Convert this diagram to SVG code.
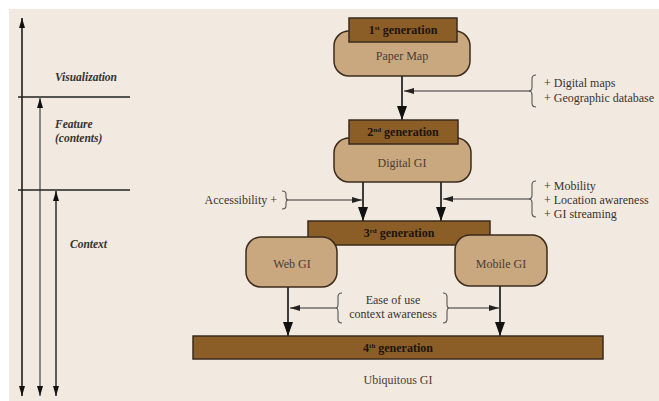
<svg xmlns="http://www.w3.org/2000/svg" width="659" height="401" viewBox="0 0 659 401">
  <defs>
    <marker id="big" viewBox="0 0 14 10" refX="14" refY="5" markerWidth="14" markerHeight="10" markerUnits="userSpaceOnUse" orient="auto-start-reverse">
      <path d="M0,0 L14,5 L0,10 Z" fill="#111"/>
    </marker>
    <marker id="small" viewBox="0 0 10 6" refX="10" refY="3" markerWidth="10" markerHeight="6" markerUnits="userSpaceOnUse" orient="auto">
      <path d="M0,0 L10,3 L0,6 Z" fill="#222"/>
    </marker>
    <marker id="axis" viewBox="0 0 10 6" refX="10" refY="3" markerWidth="10" markerHeight="6" markerUnits="userSpaceOnUse" orient="auto-start-reverse">
      <path d="M0,0 L10,3 L0,6 Z" fill="#111"/>
    </marker>
  </defs>
  <style>
    .gen { fill: #8b5d27; stroke: #3b2b1c; stroke-width: 1.5; }
    .soft { fill: #c9a77f; stroke: #3b2b1c; stroke-width: 1.5; }
    .gt { font-family: "Liberation Serif", "Times New Roman", serif; font-size: 12px; font-weight: bold; fill: #1e140a; text-anchor: middle; }
    .st { font-family: "Liberation Serif", "Times New Roman", serif; font-size: 12px; fill: #4a3d34; text-anchor: middle; }
    .lbl { font-family: "Liberation Serif", "Times New Roman", serif; font-size: 12px; fill: #3a3330; }
    .ax { font-family: "Liberation Serif", "Times New Roman", serif; font-size: 11.5px; font-weight: bold; font-style: italic; fill: #333; }
    .sup { font-size: 7px; }
    .conn { stroke: #111; stroke-width: 1.6; fill: none; }
    .thin { stroke: #333; stroke-width: 1.1; fill: none; }
    .brace { stroke: #555; stroke-width: 1.1; fill: none; }
  </style>

  <!-- page background -->
  <rect x="0" y="0" width="659" height="401" fill="#ffffff"/>
  <rect x="9" y="9" width="650" height="392" fill="#f2e9e0"/>

  <!-- level axes -->
  <g id="axes">
    <line x1="22" y1="18" x2="22" y2="396" stroke="#111" stroke-width="1.5" marker-start="url(#axis)" marker-end="url(#axis)"/>
    <line x1="40" y1="98" x2="40" y2="396" stroke="#666" stroke-width="1.5" marker-start="url(#axis)" marker-end="url(#axis)"/>
    <line x1="56" y1="191" x2="56" y2="396" stroke="#111" stroke-width="1.3" marker-start="url(#axis)" marker-end="url(#axis)"/>
    <line x1="18" y1="97" x2="130" y2="97" stroke="#222" stroke-width="1.6"/>
    <line x1="18" y1="190" x2="130" y2="190" stroke="#222" stroke-width="1.6"/>
    <text class="ax" x="55" y="81">Visualization</text>
    <text class="ax" x="55" y="128">Feature</text>
    <text class="ax" x="55" y="142">(contents)</text>
    <text class="ax" x="70" y="248">Context</text>
  </g>

  <!-- connectors -->
  <g id="connectors">
    <line class="conn" x1="402" y1="76" x2="402" y2="120" marker-end="url(#big)"/>
    <line class="conn" x1="363" y1="182" x2="363" y2="221" marker-end="url(#big)"/>
    <line class="conn" x1="441" y1="182" x2="441" y2="221" marker-end="url(#big)"/>
    <line class="conn" x1="288" y1="287" x2="288" y2="336" marker-end="url(#big)"/>
    <line class="conn" x1="500" y1="286" x2="500" y2="336" marker-end="url(#big)"/>

    <line class="thin" x1="531" y1="91" x2="404" y2="91" marker-end="url(#small)"/>
    <line class="thin" x1="287" y1="200" x2="362" y2="200" marker-end="url(#small)"/>
    <line class="thin" x1="531" y1="199" x2="443" y2="199" marker-end="url(#small)"/>
    <line class="thin" x1="337" y1="308" x2="290" y2="308" marker-end="url(#small)"/>
    <line class="thin" x1="448" y1="308" x2="499" y2="308" marker-end="url(#small)"/>

    <!-- braces -->
    <path class="brace" d="M536,75 q-4,0 -4,4 v8 q0,4 -3,4 q3,0 3,4 v8 q0,4 4,4"/>
    <path class="brace" d="M536,181 q-4,0 -4,4 v10 q0,4 -3,4 q3,0 3,4 v10 q0,4 4,4"/>
    <path class="brace" d="M282,191 q4,0 4,3 v3 q0,3 2,3 q-2,0 -2,3 v3 q0,3 -4,3"/>
    <path class="brace" d="M342,293 q-4,0 -4,4 v7 q0,4 -2,4 q2,0 2,4 v7 q0,4 4,4"/>
    <path class="brace" d="M443,293 q4,0 4,4 v7 q0,4 2,4 q-2,0 -2,4 v7 q0,4 -4,4"/>
  </g>

  <!-- side annotations -->
  <g id="notes">
    <text class="lbl" x="544" y="87">+ Digital maps</text>
    <text class="lbl" x="544" y="102">+ Geographic database</text>
    <text class="lbl" x="277" y="204" text-anchor="end">Accessibility +</text>
    <text class="lbl" x="544" y="190">+ Mobility</text>
    <text class="lbl" x="544" y="204">+ Location awareness</text>
    <text class="lbl" x="544" y="218">+ GI streaming</text>
    <text class="lbl" x="393" y="304" text-anchor="middle">Ease of use</text>
    <text class="lbl" x="393" y="318" text-anchor="middle">context awareness</text>
  </g>

  <!-- generation 1 -->
  <g id="gen1">
    <rect class="soft" x="334" y="31" width="136" height="45" rx="15"/>
    <rect class="gen" x="349" y="18" width="108" height="24"/>
    <text class="gt" x="403" y="34">1<tspan class="sup" dy="-4">st</tspan><tspan dy="4"> generation</tspan></text>
    <text class="st" x="402" y="60">Paper Map</text>
  </g>

  <!-- generation 2 -->
  <g id="gen2">
    <rect class="soft" x="334" y="138" width="137" height="44" rx="15"/>
    <rect class="gen" x="349" y="120" width="109" height="24"/>
    <text class="gt" x="403" y="136">2<tspan class="sup" dy="-4">nd</tspan><tspan dy="4"> generation</tspan></text>
    <text class="st" x="402" y="167">Digital GI</text>
  </g>

  <!-- generation 3 -->
  <g id="gen3">
    <rect class="gen" x="308" y="221" width="182" height="24"/>
    <text class="gt" x="399" y="237">3<tspan class="sup" dy="-4">rd</tspan><tspan dy="4"> generation</tspan></text>
  </g>
  <g id="webgi">
    <rect class="soft" x="246" y="237" width="91" height="50" rx="15"/>
    <text class="st" x="292" y="268">Web GI</text>
  </g>
  <g id="mobilegi">
    <rect class="soft" x="455" y="235" width="92" height="51" rx="15"/>
    <text class="st" x="501" y="268">Mobile GI</text>
  </g>

  <!-- generation 4 -->
  <g id="gen4">
    <rect class="gen" x="193" y="336" width="410" height="23"/>
    <text class="gt" x="398" y="352">4<tspan class="sup" dy="-4">th</tspan><tspan dy="4"> generation</tspan></text>
    <text class="st" x="398" y="384">Ubiquitous GI</text>
  </g>
</svg>
